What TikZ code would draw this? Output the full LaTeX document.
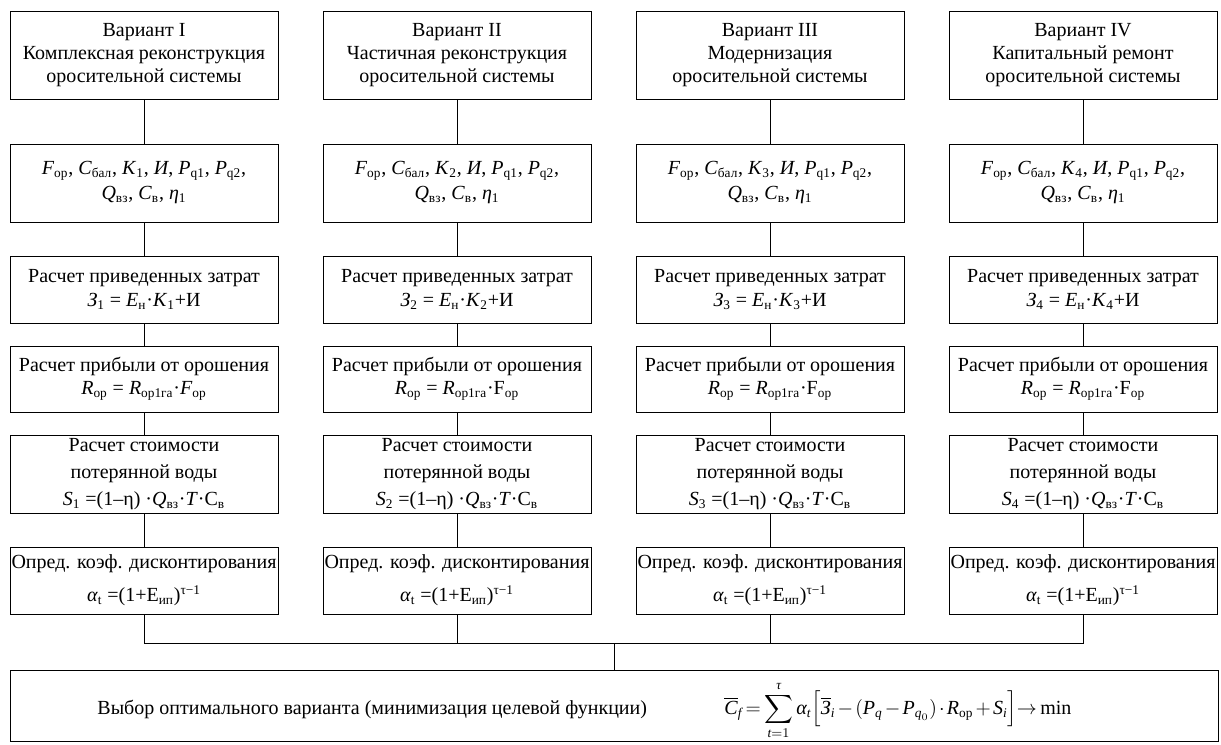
\documentclass[tikz,border=0pt]{standalone}
\usepackage{fontspec}
\usepackage{amsmath}
\setmainfont{Liberation Serif}
\def\vr#1{\textit{#1}}
\def\lo#1{\textsubscript{#1}}

\begin{document}
\begin{tikzpicture}[x=0.6pt, y=-0.6pt, line width=0.5pt,
	font=\fontsize{12}{14}\selectfont,
	blk/.style={draw, align=center, minimum width=160.8pt, inner sep=0.9pt}]
			%%%%% START %%%%%
			\useasboundingbox (0, 0) rectangle (1221, 744);
			
			% variants
			\node[blk, minimum height=52.8pt] (v1) at (144, 55) {Вариант I\\Комплексная реконструкция\\оросительной системы};
			\node[blk, minimum height=52.8pt] (v2) at (457, 55) {Вариант II\\Частичная реконструкция\\оросительной системы};
			\node[blk, minimum height=52.8pt] (v3) at (770, 55) {Вариант III\\Модернизация\\оросительной системы};
			\node[blk, minimum height=52.8pt] (v4) at (1083, 55) {Вариант IV\\Капитальный ремонт\\оросительной системы};
			
			% input data
			\node[blk, minimum height=46.8pt] (p1) at (144, 183) {\vr{F}\lo{ор}, \vr{C}\lo{бал}, \vr{K}\lo{1}, \vr{И}, \vr{P}\lo{q1}, \vr{P}\lo{q2},\\[1pt]\vr{Q}\lo{вз}, \vr{C}\lo{в}, \vr{η}\lo{1}};
			\node[blk, minimum height=46.8pt] (p2) at (457, 183) {\vr{F}\lo{ор}, \vr{C}\lo{бал}, \vr{K}\lo{2}, \vr{И}, \vr{P}\lo{q1}, \vr{P}\lo{q2},\\[1pt]\vr{Q}\lo{вз}, \vr{C}\lo{в}, \vr{η}\lo{1}};
			\node[blk, minimum height=46.8pt] (p3) at (770, 183) {\vr{F}\lo{ор}, \vr{C}\lo{бал}, \vr{K}\lo{3}, \vr{И}, \vr{P}\lo{q1}, \vr{P}\lo{q2},\\[1pt]\vr{Q}\lo{вз}, \vr{C}\lo{в}, \vr{η}\lo{1}};
			\node[blk, minimum height=46.8pt] (p4) at (1083, 183) {\vr{F}\lo{ор}, \vr{C}\lo{бал}, \vr{K}\lo{4}, \vr{И}, \vr{P}\lo{q1}, \vr{P}\lo{q2},\\[1pt]\vr{Q}\lo{вз}, \vr{C}\lo{в}, \vr{η}\lo{1}};
			
			% reduced costs
			\node[blk, minimum height=40.2pt] (z1) at (144, 289.5) {Расчет приведенных затрат\\\vr{З}\lo{1} = \vr{E}\lo{н}·\vr{K}\lo{1}+И};
			\node[blk, minimum height=40.2pt] (z2) at (457, 289.5) {Расчет приведенных затрат\\\vr{З}\lo{2} = \vr{E}\lo{н}·\vr{K}\lo{2}+И};
			\node[blk, minimum height=40.2pt] (z3) at (770, 289.5) {Расчет приведенных затрат\\\vr{З}\lo{3} = \vr{E}\lo{н}·\vr{K}\lo{3}+И};
			\node[blk, minimum height=40.2pt] (z4) at (1083, 289.5) {Расчет приведенных затрат\\\vr{З}\lo{4} = \vr{E}\lo{н}·\vr{K}\lo{4}+И};
			
			% profit
			\node[blk, minimum height=39.6pt] (r1) at (144, 379) {Расчет прибыли от орошения\\\vr{R}\lo{ор} = \vr{R}\lo{ор1га}·\vr{F}\lo{ор}};
			\node[blk, minimum height=39.6pt] (r2) at (457, 379) {Расчет прибыли от орошения\\\vr{R}\lo{ор} = \vr{R}\lo{ор1га}·F\lo{ор}};
			\node[blk, minimum height=39.6pt] (r3) at (770, 379) {Расчет прибыли от орошения\\\vr{R}\lo{ор} = \vr{R}\lo{ор1га}·F\lo{ор}};
			\node[blk, minimum height=39.6pt] (r4) at (1083, 379) {Расчет прибыли от орошения\\\vr{R}\lo{ор} = \vr{R}\lo{ор1га}·F\lo{ор}};
			
			% lost water
			\node[blk, minimum height=46.8pt] (s1) at (144, 474) {Расчет стоимости\\[2pt]потерянной воды\\[2pt]\vr{S}\lo{1} =(1–η) ·\vr{Q}\lo{вз}·\vr{T}·С\lo{в}};
			\node[blk, minimum height=46.8pt] (s2) at (457, 474) {Расчет стоимости\\[2pt]потерянной воды\\[2pt]\vr{S}\lo{2} =(1–η) ·\vr{Q}\lo{вз}·\vr{T}·С\lo{в}};
			\node[blk, minimum height=46.8pt] (s3) at (770, 474) {Расчет стоимости\\[2pt]потерянной воды\\[2pt]\vr{S}\lo{3} =(1–η) ·\vr{Q}\lo{вз}·\vr{T}·С\lo{в}};
			\node[blk, minimum height=46.8pt] (s4) at (1083, 474) {Расчет стоимости\\[2pt]потерянной воды\\[2pt]\vr{S}\lo{4} =(1–η) ·\vr{Q}\lo{вз}·\vr{T}·С\lo{в}};
			
			% discounting
			\node[blk, minimum height=40.2pt] (a1) at (144, 580.5) {Опред. коэф. дисконтирования\\[6pt]\vr{α}\lo{t} =(1+Е\lo{ип})\textsuperscript{τ−1}};
			\node[blk, minimum height=40.2pt] (a2) at (457, 580.5) {Опред. коэф. дисконтирования\\[6pt]\vr{α}\lo{t} =(1+Е\lo{ип})\textsuperscript{τ−1}};
			\node[blk, minimum height=40.2pt] (a3) at (770, 580.5) {Опред. коэф. дисконтирования\\[6pt]\vr{α}\lo{t} =(1+Е\lo{ип})\textsuperscript{τ−1}};
			\node[blk, minimum height=40.2pt] (a4) at (1083, 580.5) {Опред. коэф. дисконтирования\\[6pt]\vr{α}\lo{t} =(1+Е\lo{ип})\textsuperscript{τ−1}};
			
			% choice of the best variant
			\node[draw, minimum width=724.8pt, minimum height=42.6pt] (opt) at (614, 705.5) {};
			\node[anchor=base west, inner sep=0pt] (optl) at (97, 714) {Выбор оптимального варианта (минимизация целевой функции)};
			\node[anchor=base west, inner sep=0pt] (optf) at (724, 714) {\medmuskip=2mu \thickmuskip=3mu $\displaystyle \overline{\textit{C}}_{\textit{f}} = \sum\limits_{\textit{t}=1}^{\textit{τ}} \textit{α}_{\textit{t}} \Big[\overline{\textit{З}}_{\textit{i}} - (\textit{P}_{\textit{q}} - \textit{P}_{\textit{q}_0}) \cdot \textit{R}_{\text{ор}} + \textit{S}_{\textit{i}}\Big] {\rightarrow} \min$};
			
			% connectors
			\draw (v1) -- (p1) -- (z1) -- (r1) -- (s1) -- (a1);
			\draw (v2) -- (p2) -- (z2) -- (r2) -- (s2) -- (a2);
			\draw (v3) -- (p3) -- (z3) -- (r3) -- (s3) -- (a3);
			\draw (v4) -- (p4) -- (z4) -- (r4) -- (s4) -- (a4);
			
			\coordinate (jn) at (614, 643);
			\draw (a1.south) |- (jn) -| (a4.south);
			\draw (a2.south) -- (a2.south |- jn);
			\draw (a3.south) -- (a3.south |- jn);
			\draw (jn) -- (opt);
			
			%%%%% END %%%%%
\end{tikzpicture}
\end{document}
